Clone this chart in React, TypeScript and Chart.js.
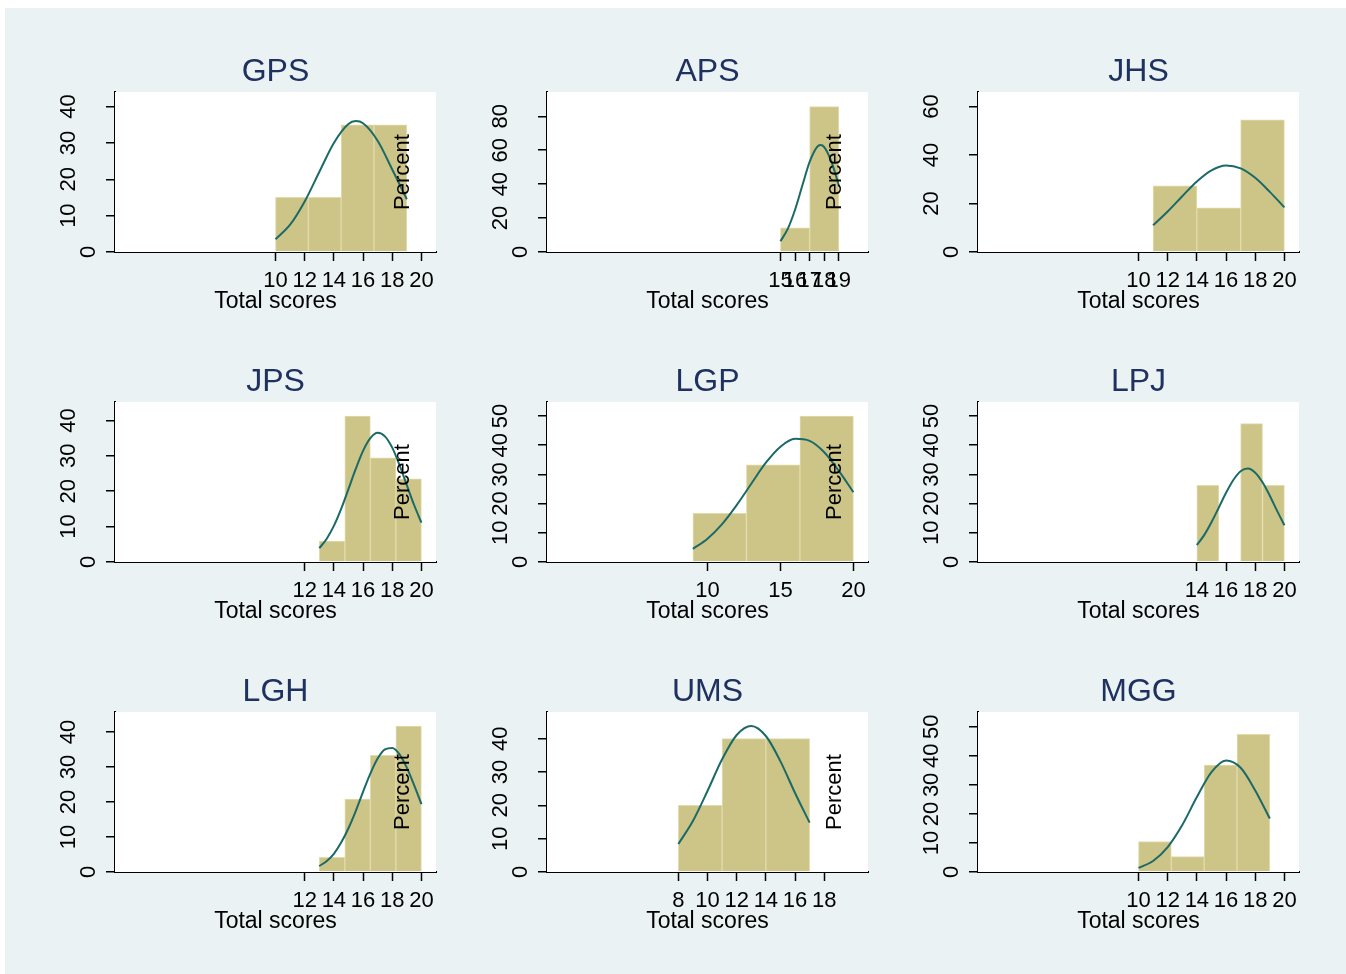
import React, { useEffect, useRef } from 'react';
import { Chart, registerables } from 'chart.js';

Chart.register(...registerables);

// ---------- data ----------
const panelNames = ['GPS', 'APS', 'JHS', 'JPS', 'LGP', 'LPJ', 'LGH', 'UMS', 'MGG'];

// histogram bin edges (Total scores)
const binEdges: number[][] = [
  [10, 12.25, 14.5, 16.75, 19],
  [15, 17, 19],
  [11, 14, 17, 20],
  [13, 14.75, 16.5, 18.25, 20],
  [9, 12.667, 16.333, 20],
  [14, 15.5, 17, 18.5, 20],
  [13, 14.75, 16.5, 18.25, 20],
  [8, 11, 14, 17],
  [10, 12.25, 14.5, 16.75, 19],
];

// bar heights (Percent)
const binPercents: number[][] = [
  [15, 15, 35, 35],
  [14.3, 85.7],
  [27.3, 18.2, 54.5],
  [5.9, 41.2, 29.4, 23.5],
  [16.7, 33.3, 50.0],
  [26.3, 0, 47.4, 26.3],
  [4.2, 20.8, 33.3, 41.7],
  [20, 40, 40],
  [10.5, 5.3, 36.8, 47.4],
];

// normal density overlay
const curveX: number[][] = [
  [10, 11, 12, 13, 14, 15, 15.5, 16, 17, 18, 19],
  [15, 15.5, 16, 16.5, 17, 17.5, 17.75, 18, 18.5, 19],
  [11, 12, 13, 14, 15, 16, 17, 18, 19, 20],
  [13, 13.5, 14, 14.5, 15, 15.5, 16, 16.5, 17, 17.5, 18, 18.5, 19, 19.5, 20],
  [9, 10, 11, 12, 13, 14, 15, 16, 17, 18, 19, 20],
  [14, 14.5, 15, 15.5, 16, 16.5, 17, 17.5, 18, 18.5, 19, 19.5, 20],
  [13, 13.5, 14, 14.5, 15, 15.5, 16, 16.5, 17, 17.5, 18, 18.5, 19, 19.5, 20],
  [8, 9, 10, 11, 12, 13, 14, 15, 16, 17],
  [10, 11, 12, 13, 14, 15, 16, 17, 18, 19],
];
const curveY: number[][] = [
  [3.5, 7.5, 13.9, 22.0, 30.0, 35.2, 36.0, 35.4, 30.6, 22.7, 14.5],
  [6.4, 13.6, 24.9, 39.2, 53.1, 61.8, 63.0, 61.8, 53.1, 39.2],
  [11.0, 16.7, 23.0, 29.1, 33.7, 35.7, 34.5, 30.6, 24.8, 18.4],
  [3.9, 6.5, 10.2, 15.0, 20.6, 26.3, 31.4, 35.0, 36.5, 35.5, 32.3, 27.4, 21.7, 16.1, 11.1],
  [4.5, 8.0, 13.0, 19.5, 26.8, 34.0, 39.5, 42.2, 41.5, 37.6, 31.2, 23.9],
  [5.8, 9.2, 13.6, 18.6, 23.7, 28.1, 31.1, 32.0, 30.6, 27.3, 22.7, 17.5, 12.6],
  [1.7, 3.1, 5.2, 8.4, 12.5, 17.4, 22.9, 28.1, 32.4, 35.0, 35.4, 33.6, 29.8, 24.8, 19.4],
  [8.4, 15.3, 24.3, 33.8, 41.1, 43.8, 40.8, 33.2, 23.7, 14.8],
  [1.4, 3.8, 8.6, 16.2, 25.8, 34.4, 38.4, 35.9, 28.1, 18.4],
];

const xTickValues: number[][] = [
  [10, 12, 14, 16, 18, 20],
  [15, 16, 17, 18, 19],
  [10, 12, 14, 16, 18, 20],
  [12, 14, 16, 18, 20],
  [10, 15, 20],
  [14, 16, 18, 20],
  [12, 14, 16, 18, 20],
  [8, 10, 12, 14, 16, 18],
  [10, 12, 14, 16, 18, 20],
];
const yTickValues: number[][] = [
  [0, 10, 20, 30, 40],
  [0, 20, 40, 60, 80],
  [0, 20, 40, 60],
  [0, 10, 20, 30, 40],
  [0, 10, 20, 30, 40, 50],
  [0, 10, 20, 30, 40, 50],
  [0, 10, 20, 30, 40],
  [0, 10, 20, 30, 40],
  [0, 10, 20, 30, 40, 50],
];
const yMaxValues = [44, 94.3, 66, 45.2, 54.8, 54.8, 45.7, 48, 55.1];
const xRange = [-1, 21];
const xTitle = 'Total scores';
const yTitle = 'Percent';

// ---------- styles ----------
const FONT = '"Liberation Sans", Arial, Helvetica, sans-serif';
const BG = '#EAF2F3';
const GRID = '#E5EEF0';
const BAR = 'rgb(205,196,135)';
const BAR_EDGE = 'rgb(226,220,172)';
const CURVE = '#1B6A67';
const TITLE = '#1E3160';

const plotBgPlugin = {
  id: 'plotBg',
  beforeDatasetsDraw(chart: any) {
    const { ctx, chartArea } = chart;
    ctx.save();
    ctx.fillStyle = '#FFFFFF';
    ctx.fillRect(chartArea.left, chartArea.top, chartArea.right - chartArea.left, chartArea.bottom - chartArea.top);
    ctx.restore();
  },
};

function Panel({ idx }: { idx: number }) {
  const ref = useRef<HTMLCanvasElement | null>(null);
  const col = idx % 3;
  const row = Math.floor(idx / 3);

  useEffect(() => {
    if (!ref.current) return;
    const edges = binEdges[idx];
    const centers = binPercents[idx].map((_, i) => (edges[i] + edges[i + 1]) / 2);
    const bars = binPercents[idx].map((p, i) => ({ x: centers[i], y: p }));
    const curve = curveX[idx].map((x, i) => ({ x, y: curveY[idx][i] }));
    const xt = xTickValues[idx];
    const yt = yTickValues[idx];

    const yTitlePlugin = {
      id: 'yTitleInside',
      afterDatasetsDraw(chart: any) {
        if (col === 2) return;
        const { ctx, chartArea } = chart;
        ctx.save();
        ctx.translate(chartArea.left + 287.8, (chartArea.top + chartArea.bottom) / 2);
        ctx.rotate(-Math.PI / 2);
        ctx.font = `22px ${FONT}`;
        ctx.fillStyle = '#000';
        ctx.textAlign = 'center';
        ctx.textBaseline = 'middle';
        ctx.fillText(yTitle, 0, 0);
        ctx.restore();
      },
    };

    const chart = new Chart(ref.current, {
      type: 'bar',
      data: {
        datasets: [
          {
            type: 'bar',
            data: bars as any,
            xAxisID: 'xb',
            yAxisID: 'y',
            backgroundColor: BAR,
            borderColor: BAR_EDGE,
            borderWidth: 1,
            barPercentage: 1,
            categoryPercentage: 1,
            grouped: false,
            order: 1,
          },
          {
            type: 'line',
            data: curve as any,
            xAxisID: 'x',
            yAxisID: 'y',
            borderColor: CURVE,
            borderWidth: 2,
            pointRadius: 0,
            fill: false,
            cubicInterpolationMode: 'monotone',
            order: 0,
          },
        ] as any,
      },
      options: {
        responsive: false,
        animation: false,
        events: [],
        layout: { padding: { left: 0, right: 8, top: 0, bottom: 0 } },
        plugins: {
          legend: { display: false },
          tooltip: { enabled: false },
          title: {
            display: true,
            fullSize: false,
            text: panelNames[idx],
            color: TITLE,
            font: { family: FONT, size: 32, weight: 'normal', lineHeight: 1.2 },
            padding: { top: 20.8, bottom: 0.8 },
          },
        },
        scales: {
          x: {
            type: 'linear',
            position: 'bottom',
            min: xRange[0],
            max: xRange[1],
            offset: false,
            afterBuildTicks: (axis: any) => {
              axis.ticks = xt.map((v) => ({ value: v }));
            },
            afterFit: (axis: any) => {
              axis.height = 70;
            },
            grid: {
              display: true,
              drawOnChartArea: false,
              drawTicks: true,
              tickLength: 9,
              tickColor: '#000',
              tickWidth: 1.5,
              offset: false,
            },
            border: { display: true, color: '#000', width: 2 },
            ticks: {
              autoSkip: false,
              maxRotation: 0,
              minRotation: 0,
              padding: 6.6,
              color: '#000',
              font: { family: FONT, size: 22 },
              callback: (v: any) => String(v),
            },
            title: {
              display: true,
              text: xTitle,
              color: '#000',
              font: { family: FONT, size: 23 },
              padding: { top: 0, bottom: 7 },
            },
          },
          xb: {
            type: 'linear',
            position: 'bottom',
            display: false,
            min: xRange[0],
            max: xRange[1],
            offset: false,
            grid: { offset: false },
            afterBuildTicks: (axis: any) => {
              axis.ticks = centers.map((v) => ({ value: v }));
            },
          },
          y: {
            type: 'linear',
            position: 'left',
            min: 0,
            max: yMaxValues[idx],
            afterBuildTicks: (axis: any) => {
              axis.ticks = yt.map((v) => ({ value: v }));
            },
            afterFit: (axis: any) => {
              axis.width = 100;
            },
            grid: {
              color: GRID,
              lineWidth: 1.5,
              drawTicks: true,
              tickLength: 9,
              tickColor: '#000',
              tickWidth: 1.5,
            },
            border: { display: true, color: '#000', width: 2 },
            ticks: {
              autoSkip: false,
              minRotation: 90,
              maxRotation: 90,
              crossAlign: 'center',
              padding: 5.3,
              color: '#000',
              font: { family: FONT, size: 22, lineHeight: 1.736 },
              callback: (v: any) => (v === 0 ? '0' : [String(v), '']),
            },
          },
        },
      } as any,
      plugins: [plotBgPlugin, yTitlePlugin],
    });
    return () => chart.destroy();
  }, [idx, col]);

  const left = Math.round(115.3 + col * 431.5 - 100) - 5;
  const top = 24 + row * 310;
  return (
    <canvas
      ref={ref}
      width={429}
      height={290}
      style={{ position: 'absolute', left, top, width: 429, height: 290, display: 'block' }}
    />
  );
}

export default function App() {
  return (
    <div
      style={{
        position: 'absolute',
        left: 5,
        top: 8,
        width: 1341,
        height: 966,
        background: BG,
        overflow: 'hidden',
      }}
    >
      {panelNames.map((_, i) => (
        <Panel key={i} idx={i} />
      ))}
    </div>
  );
}
